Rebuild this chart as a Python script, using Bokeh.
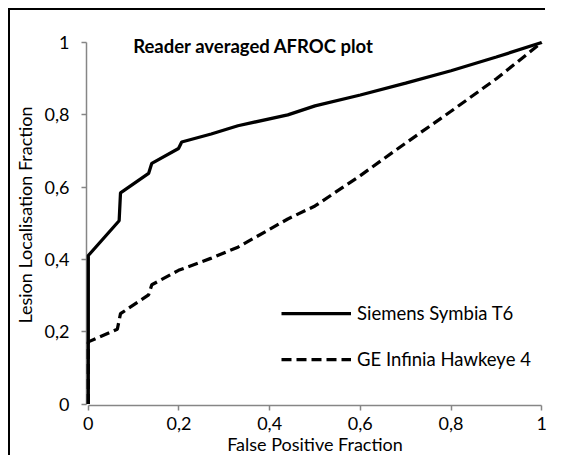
from bokeh.plotting import figure
from bokeh.models import Range1d, FixedTicker, Label, Legend, LegendItem, CustomJSTickFormatter
from bokeh.embed import file_html
from bokeh.resources import INLINE

# ---- data ----
siemens_fpf = [0.0, 0.0, 0.068, 0.071, 0.133, 0.140, 0.199, 0.206, 0.271, 0.33, 0.44, 0.5, 0.6, 0.7, 0.8, 0.9, 1.0]
siemens_llf = [0.0, 0.411, 0.507, 0.584, 0.638, 0.666, 0.707, 0.725, 0.747, 0.77, 0.80, 0.825, 0.855, 0.888, 0.922, 0.96, 1.0]

ge_fpf = [0.0, 0.0, 0.064, 0.071, 0.133, 0.140, 0.199, 0.27, 0.33, 0.44, 0.5, 0.6, 0.7, 0.8, 0.9, 1.0]
ge_llf = [0.0, 0.172, 0.207, 0.250, 0.302, 0.330, 0.370, 0.403, 0.434, 0.512, 0.548, 0.632, 0.722, 0.81, 0.9, 1.0]

tick_values = [0, 0.2, 0.4, 0.6, 0.8, 1]
tick_labels = ["0", "0,2", "0,4", "0,6", "0,8", "1"]

series_names = ["Siemens Symbia T6", "GE Infinia Hawkeye 4"]
title_text = "Reader averaged AFROC plot"
x_title = "False Positive Fraction"
y_title = "Lesion Localisation Fraction"

FONT = "Lato"
TXT = "#000000"
AXC = "#868686"
PX = 0.004

p = figure(width=537, height=447, output_backend="svg", toolbar_location=None,
           x_range=Range1d(-PX, 1 + PX), y_range=Range1d(-PX, 1.05),
           min_border_left=76, min_border_right=4, min_border_top=14, min_border_bottom=52)
p.styles = {"box-shadow": "-2px -2px 0px 0px #000000",
            "margin-left": "10px", "margin-top": "10px"}
p.outline_line_color = None
p.grid.visible = False
p.background_fill_color = "white"
p.border_fill_color = "white"

fmt = CustomJSTickFormatter(args=dict(vals=tick_values, labs=tick_labels), code="""
    for (let i = 0; i < vals.length; i++) {
        if (Math.abs(vals[i] - tick) < 1e-9) { return labs[i]; }
    }
    return "";
""")

for ax in (p.xaxis[0], p.yaxis[0]):
    ax.ticker = FixedTicker(ticks=tick_values)
    ax.formatter = fmt
    ax.bounds = (0, 1)
    ax.axis_line_color = AXC
    ax.axis_line_width = 1.5
    ax.major_tick_line_color = AXC
    ax.major_tick_line_width = 1.5
    ax.major_tick_in = 0
    ax.major_tick_out = 5
    ax.minor_tick_line_color = None
    ax.major_label_text_font = FONT
    ax.major_label_text_font_size = "18px"
    ax.major_label_text_color = TXT
    ax.axis_label_text_font = FONT
    ax.axis_label_text_font_size = "18px"
    ax.axis_label_text_font_style = "normal"
    ax.axis_label_text_color = TXT

p.xaxis.axis_label = x_title
p.yaxis.axis_label = y_title
p.xaxis.major_label_standoff = 6
p.xaxis.axis_label_standoff = 0
p.yaxis.major_label_standoff = 12
p.yaxis.axis_label_standoff = 6

r1 = p.line(siemens_fpf, siemens_llf, line_color="black", line_width=3.25, level="annotation")
r2 = p.line(ge_fpf, ge_llf, line_color="black", line_width=3.25, line_dash="10 5", level="annotation")

legend = Legend(items=[LegendItem(label=series_names[0], renderers=[r1]),
                       LegendItem(label=series_names[1], renderers=[r2])],
                location=(195, 35), orientation="vertical",
                border_line_color=None, background_fill_alpha=0,
                padding=0, margin=0, spacing=24, glyph_width=70, glyph_height=20,
                label_standoff=6, label_text_font=FONT, label_text_font_size="18.5px",
                label_text_color=TXT, label_height=20)
p.add_layout(legend, "center")

title = Label(x=0.099, y=0.99, text=title_text, text_font=FONT, text_font_size="18.5px",
              text_font_style="bold", text_color=TXT, text_baseline="middle", text_align="left")
p.add_layout(title)

open("out.html", "w").write(file_html(p, INLINE))
